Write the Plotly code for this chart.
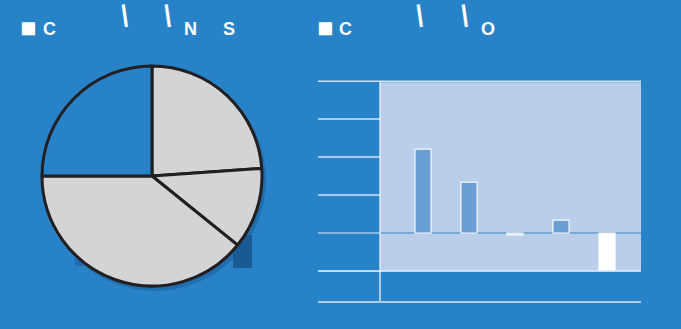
import plotly.graph_objects as go

# ---- data ----
pie_labels = ["A", "B", "C", "D"]
pie_values = [23.9, 11.9, 39.2, 25.0]
pie_colors = ["#D3D4D6", "#D3D4D6", "#D3D4D6", "#2782C8"]

bar_x = [0, 1, 2, 3, 4]
bar_values = [2.21, 1.34, -0.05, 0.34, -0.97]
bar_colors = ["#6B9FD4", "#6B9FD4", "#BACEE9", "#6B9FD4", "#FFFFFF"]
grid_values = [-1, 0, 1, 2, 3, 4]

BG = "#2782C8"
W, H = 681, 329

def px(x):
    return x / W

def py(y):
    return 1 - y / H

fig = go.Figure()

fig.add_trace(go.Pie(
    labels=pie_labels, values=pie_values, sort=False, direction="clockwise",
    rotation=0, marker=dict(colors=pie_colors, line=dict(color="#231F20", width=3)),
    textinfo="none", hoverinfo="skip", showlegend=False,
    domain=dict(x=[px(42), px(262)], y=[py(286), py(66)]),
))

fig.add_trace(go.Bar(
    x=bar_x, y=bar_values, width=0.35,
    marker=dict(color=bar_colors, line=dict(color="rgba(255,255,255,0.9)", width=1.2)),
    hoverinfo="skip", showlegend=False, xaxis="x", yaxis="y",
))

x_dom = [px(318), px(641)]
fig.update_layout(
    width=W, height=H, margin=dict(l=0, r=0, t=0, b=0),
    paper_bgcolor=BG, plot_bgcolor="rgba(0,0,0,0)",
    xaxis=dict(domain=x_dom, range=[-2.283, 4.739], showgrid=False, zeroline=False,
               showticklabels=False, showline=True, linecolor="rgba(225,235,248,0.7)",
               linewidth=2, ticks=""),
    yaxis=dict(domain=[py(301), py(80)], range=[-1.79, 4.03], showgrid=False,
               zeroline=False, showticklabels=False, ticks=""),
    font=dict(family="Liberation Sans, Arial, sans-serif", color="white"),
)

panel_x0 = (380 - 318) / (641 - 318)
shapes = [
    # shadow of pie
    dict(type="circle", xref="paper", yref="paper", layer="below",
         x0=px(44), x1=px(266), y0=py(291), y1=py(69),
         fillcolor="rgba(10,40,80,0.22)", line=dict(width=0)),
    # dark patches
    dict(type="rect", xref="paper", yref="paper", layer="below",
         x0=px(233), x1=px(252), y0=py(268), y1=py(235),
         fillcolor="#1A5A94", line=dict(width=0)),
    dict(type="rect", xref="paper", yref="paper", layer="below",
         x0=px(75), x1=px(215), y0=py(266), y1=py(258),
         fillcolor="#1F6BAD", line=dict(width=0)),
]
for g in grid_values:
    shapes.append(dict(type="line", xref="x domain", yref="y", layer="below",
                       x0=0, x1=1, y0=g, y1=g,
                       line=dict(color="rgba(235,243,252,0.85)" if g > 0 else "rgba(220,232,246,0.7)",
                                 width=1.5)))
shapes += [
    # panel
    dict(type="rect", xref="x domain", yref="y", layer="below",
         x0=panel_x0, x1=1, y0=-1, y1=3.97,
         fillcolor="#BACEE9", line=dict(width=0)),
    # bottom edge of panel
    dict(type="line", xref="x domain", yref="y", layer="below",
         x0=0, x1=1, y0=-1, y1=-1, line=dict(color="rgba(225,235,248,0.85)", width=1.5)),
    # zero line
    dict(type="line", xref="x domain", yref="y", layer="below",
         x0=panel_x0, x1=1, y0=0, y1=0, line=dict(color="#7AAAD8", width=2)),
    # y axis line
    dict(type="line", xref="x domain", yref="y", layer="above",
         x0=panel_x0, x1=panel_x0, y0=-1.79, y1=4.0,
         line=dict(color="rgba(235,242,252,0.85)", width=1.5)),
]
fig.update_layout(shapes=shapes)

annots = [
    ("■", 28, 28, 27, 0), ("C", 49, 29, 18, 0), ("N", 190, 29, 18, 0), ("S", 229, 29, 18, 0),
    ("■", 325, 28, 27, 0), ("C", 346, 29, 18, 0), ("O", 488, 29, 18, 0),
    ("|", 124, 14, 24, -8), ("|", 167, 14, 24, -8),
    ("|", 419, 14, 24, -8), ("|", 464, 14, 24, -8),
]
for t, x, y, s, a in annots:
    fig.add_annotation(text=f"<b>{t}</b>", x=px(x), y=py(y), xref="paper", yref="paper",
                       showarrow=False, textangle=a, xanchor="center", yanchor="middle",
                       font=dict(size=s, color="white"))

fig.write_html("out.html")
